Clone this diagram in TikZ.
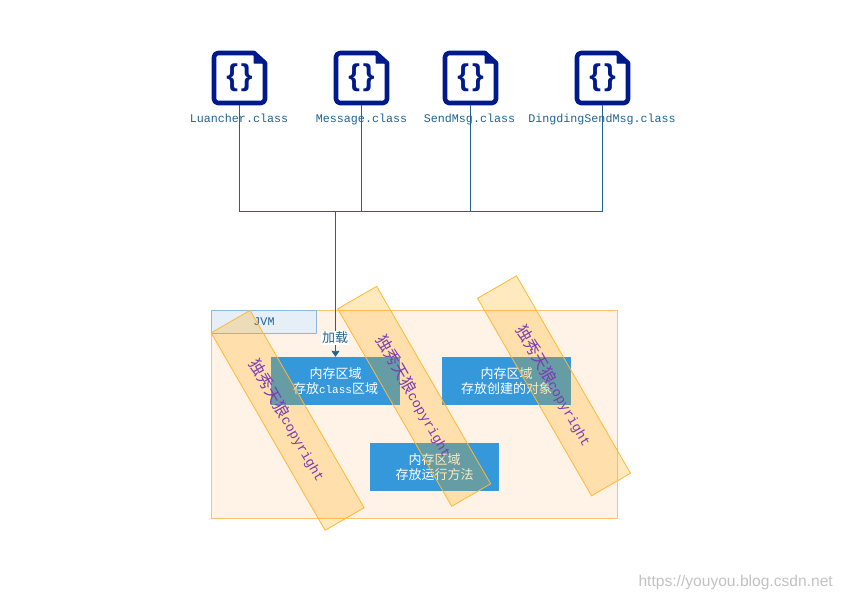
\documentclass[tikz,border=0pt]{standalone}
\usepackage{fontspec}
\setmainfont{Liberation Mono}
\newfontfamily\cjk{Noto Sans CJK SC}
\newfontfamily\uisans{Liberation Sans}
\usetikzlibrary{arrows.meta}
\definecolor{iconblue}{RGB}{0,26,140}
\definecolor{wire}{RGB}{31,99,145}
\definecolor{boxblue}{RGB}{52,152,219}
\definecolor{jvmfill}{RGB}{255,242,230}
\definecolor{jvmedge}{RGB}{255,192,112}
\definecolor{headfill}{RGB}{230,238,248}
\definecolor{headedge}{RGB}{141,184,226}
\definecolor{markedge}{RGB}{255,184,51}
\definecolor{markfill}{RGB}{255,170,0}
\definecolor{marktext}{RGB}{120,60,180}
\newcommand{\sz}[1]{\fontsize{#1}{#1}\selectfont}
\newcommand{\memtext}[1]{{\cjk\fontsize{13}{15}\selectfont #1}}
\tikzset{
  x=1pt,y=-1pt,
  iconbox/.style={minimum width=56pt,minimum height=54pt,inner sep=0pt},
  bracetext/.style={text=iconblue,font={\uisans\bfseries\sz{30}},inner sep=0pt},
  filelabel/.style={text=wire,font=\sz{11.7},inner sep=0pt,anchor=base},
  wireline/.style={wire,line width=0.9pt},
  memory/.style={fill=boxblue,minimum width=129pt,minimum height=48pt,inner sep=0pt,text=white,align=center,font={\fontsize{11}{15}\selectfont}},
  stamp/.style={draw=markedge,fill=markfill,fill opacity=0.25,text opacity=1,line width=0.8pt,minimum width=228pt,minimum height=45pt,inner sep=0pt,rotate=-60,text=marktext,font=\sz{13.4}},
}
\begin{document}
\begin{tikzpicture}
\useasboundingbox (0,0) rectangle (843,600);
% container
\node[draw=jvmedge,fill=jvmfill,line width=0.8pt,minimum width=406pt,minimum height=208pt,inner sep=0pt] (jvm) at (414.5,414.5) {};
\node[draw=headedge,fill=headfill,line width=0.8pt,minimum width=105pt,minimum height=23pt,inner sep=0pt,text=wire,font=\sz{11.7}] (head) at (264,322) {JVM};
% files
\node[iconbox] (f1) at (239.5,78) {};
\node[iconbox] (f2) at (361.5,78) {};
\node[iconbox] (f3) at (470.5,78) {};
\node[iconbox] (f4) at (602.5,78) {};
\foreach \px in {239.5,361.5,470.5,602.5}{
  \begin{scope}[shift={(\px,78)}]
    \draw[iconblue,line width=4.6pt,line join=round] (14.5,-25) [rounded corners=4pt] -- (-25.5,-25) -- (-25.5,25) -- (25.5,25) [sharp corners] -- (25.5,-15) -- cycle;
    \filldraw[iconblue,line width=1pt,line join=round] (14.5,-25) -- (25.5,-15) -- (14.5,-15) -- cycle;
    \node[bracetext] at (0,0) {\{\kern3pt\}};
  \end{scope}
}
\node[filelabel] (l1) at (239,122) {Luancher.class};
\node[filelabel] (l2) at (361.5,122) {Message.class};
\node[filelabel] (l3) at (469.5,122) {SendMsg.class};
\node[filelabel] (l4) at (602,122) {DingdingSendMsg.class};
% memory boxes
\node[memory] (m1) at (335.5,381) {\memtext{内存区域}\\\memtext{存放}class\memtext{区域}};
\node[memory] (m2) at (506.5,381) {\memtext{内存区域}\\\memtext{存放创建的对象}};
\node[memory] (m3) at (434.5,467) {\memtext{内存区域}\\\memtext{存放运行方法}};
% connectors
\coordinate (j) at (335.5,211);
\draw[wireline] (f1.south) -- (f1.south |- j) -- (f4.south |- j) -- (f4.south);
\draw[wireline] (f2.south) -- (f2.south |- j);
\draw[wireline] (f3.south) -- (f3.south |- j);
\draw[wireline,-{Triangle[length=6pt,width=8pt]}] (j) -- (m1.north);
\node[fill=white,inner sep=1pt,text=wire,font={\cjk\sz{13}}] (load) at (335,338) {加载};
% stamps
\node[stamp] (s1) at (287.6,420.3) {{\cjk\sz{16}独秀天狼}copyright};
\node[stamp] (s2) at (414.2,396.3) {{\cjk\sz{16}独秀天狼}copyright};
\node[stamp] (s3) at (554,385.8) {{\cjk\sz{16}独秀天狼}copyright};
% site text
\node[anchor=east,inner sep=0pt,text=black!24,font={\uisans\sz{15.6}}] (site) at (833,582) {https://youyou.blog.csdn.net};
\end{tikzpicture}
\end{document}
